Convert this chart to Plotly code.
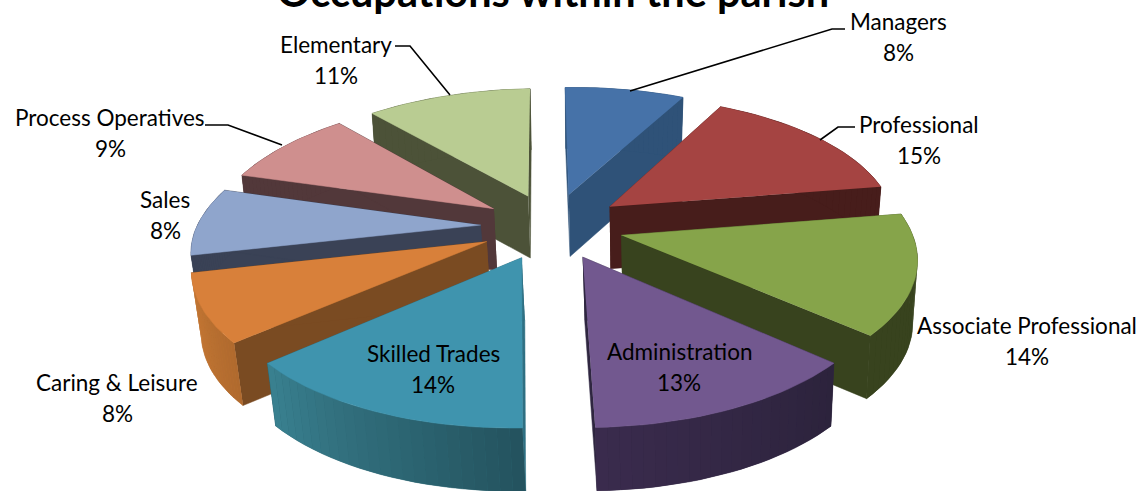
import numpy as np
import plotly.graph_objects as go

categories = ["Managers", "Professional", "Associate Professional", "Administration", "Skilled Trades",
              "Caring & Leisure", "Sales", "Process Operatives", "Elementary"]
values = [8, 15, 14, 13, 14, 8, 8, 9, 11]

top_colors = ["#4672a8", "#a54442", "#86a44a", "#72588f", "#3f94ae", "#d8803a", "#8fa5cc", "#cf8f8e", "#b9cc92"]
wall_colors = ["#2f5278", "#471d1b", "#38431e", "#2f2640", "#2f7083", "#7a4b22", "#3a4256", "#52383a", "#4c5238"]
# outer rim runs from colour A to colour B along the slice
rim_a = ["#2f5278", "#471d1b", "#38431e", "#2c233c", "#24535f", "#b06a2e", "#3a4256", "#52383a", "#4c5238"]
rim_b = ["#2f5278", "#471d1b", "#38431e", "#3a2b4d", "#39808f", "#c87a36", "#3a4256", "#52383a", "#4c5238"]

label_x = [898, 919, 1027, 679, 433, 117, 165, 110, 336]
label_y = [21, 124, 325, 351, 353, 382, 199, 117, 44]

# draw order, back of the pie first
draw_order = [0, 8, 7, 1, 6, 2, 5, 3, 4]

# projection of the tilted pie onto the page
CX, CY = 552, 226
RX, RY = 286, 132.8
PERSP = 0.156
EXPLODE = 0.25
DEPTH = 62


def project(x, y, bottom=False):
    x, y = np.asarray(x, float), np.asarray(y, float)
    p = 1 / (1 + PERSP * y)
    sx = CX + RX * x * p
    sy = CY - RY * y * p
    if bottom:
        sx = CX + (sx - CX) * 0.98
        sy = sy + DEPTH * p ** 0.1
    # the view is slightly skewed, front goes right and right side goes up
    skew = np.where(sy > CY, 0.04, 0.012)
    return sx + skew * (sy - CY), sy - 0.016 * (sx - CX)


def poly(fig, xs, ys, color, width=0.5):
    fig.add_trace(go.Scatter(x=xs, y=ys, mode="lines", fill="toself", fillcolor=color,
                             line=dict(color=color, width=width), hoverinfo="skip", showlegend=False))


def mix(c1, c2, t):
    a = [int(c1[i:i + 2], 16) for i in (1, 3, 5)]
    b = [int(c2[i:i + 2], 16) for i in (1, 3, 5)]
    return "rgb({},{},{})".format(*[round(a[i] + (b[i] - a[i]) * t) for i in range(3)])


fig = go.Figure()
edges = np.cumsum([0] + values) / sum(values) * 2 * np.pi

for i in draw_order:
    a0, a1 = edges[i], edges[i + 1]
    mid = (a0 + a1) / 2
    ox, oy = EXPLODE * np.sin(mid), EXPLODE * np.cos(mid)
    ang = np.linspace(a0, a1, 25)
    ax, ay = ox + np.sin(ang), oy + np.cos(ang)

    # radial walls
    for a in (a0, a1):
        ex, ey = ox + np.sin(a), oy + np.cos(a)
        tx, ty = project([ox, ex], [oy, ey])
        bx, by = project([ox, ex], [oy, ey], bottom=True)
        poly(fig, [tx[0], tx[1], bx[1], bx[0]], [ty[0], ty[1], by[1], by[0]], wall_colors[i])

    # outer rim: one flat piece, then strips on it for the shading
    tx, ty = project(ax, ay)
    bx, by = project(ax, ay, bottom=True)
    poly(fig, np.r_[tx, bx[::-1]], np.r_[ty, by[::-1]], mix(rim_a[i], rim_b[i], 0.5))
    for k in range(len(ang) - 1):
        poly(fig, [tx[k], tx[k + 1], bx[k + 1], bx[k]], [ty[k], ty[k + 1], by[k + 1], by[k]],
             mix(rim_a[i], rim_b[i], k / (len(ang) - 2)), width=0)

    # top face
    fx, fy = project(np.r_[ox, ax], np.r_[oy, ay])
    poly(fig, fx, fy, top_colors[i])

annotations = [dict(x=553, y=18, text="<b>Occupations within the parish</b>", showarrow=False, yanchor="bottom",
                    font=dict(family="Lato", size=41.5, color="#000000"))]
for name, v, lx, ly in zip(categories, values, label_x, label_y):
    annotations.append(dict(x=lx, y=ly, text=name, showarrow=False, font=dict(family="Lato", size=22.5, color="#000000")))
    annotations.append(dict(x=lx, y=ly + 31, text=f"{v}%", showarrow=False, font=dict(family="Lato", size=22.5, color="#000000")))

leaders = [[(845, 29), (832, 29), (630, 91)],
           [(855, 127), (838, 127), (820, 140)],
           [(395, 46), (410, 46), (450, 95)],
           [(205, 125), (228, 125), (282, 145)]]
shapes = []
for pts in leaders:
    path = "M" + " L".join(f"{x},{y}" for x, y in pts)
    shapes.append(dict(type="path", path=path, line=dict(color="#000000", width=1.6)))

fig.update_layout(width=1141, height=491, margin=dict(l=0, r=0, t=0, b=0),
                  paper_bgcolor="#ffffff", plot_bgcolor="#ffffff",
                  xaxis=dict(range=[0, 1141], visible=False, fixedrange=True),
                  yaxis=dict(range=[491, 0], visible=False, fixedrange=True),
                  annotations=annotations, shapes=shapes)

fig.write_html("out.html", config={"displayModeBar": False},
               post_script="document.body.style.margin='0';document.body.style.overflow='hidden';")
